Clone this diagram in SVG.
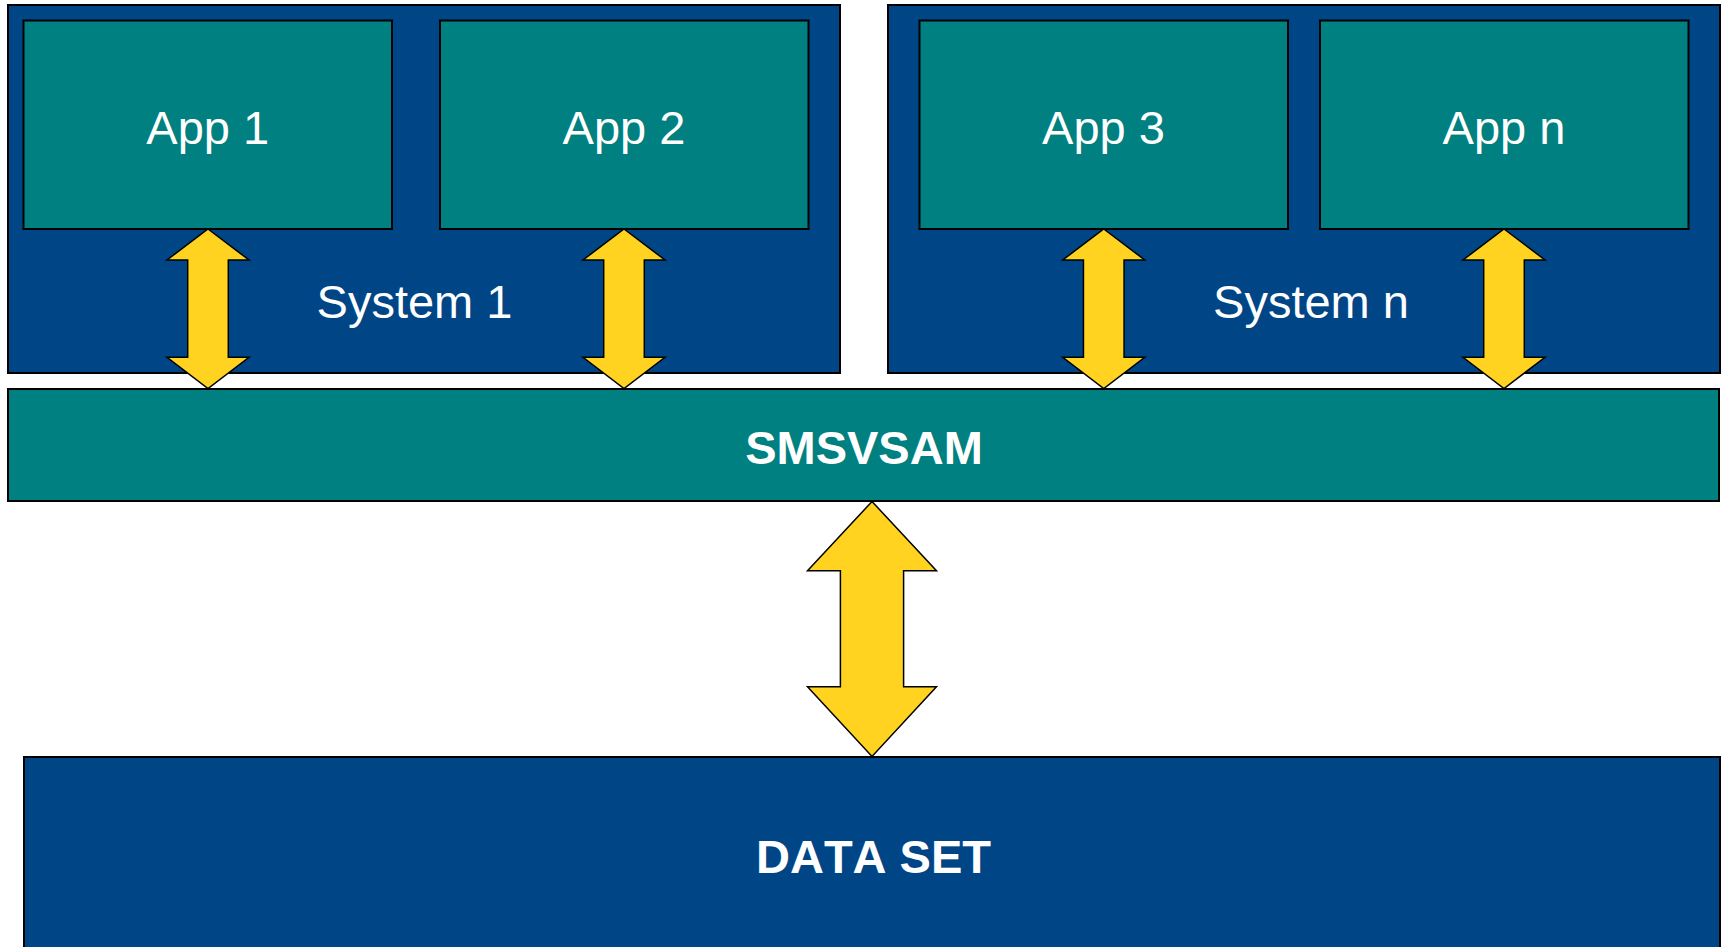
<svg xmlns="http://www.w3.org/2000/svg" width="1725" height="947" viewBox="0 0 1725 947">
  <style>
    .sys { fill: #004586; stroke: #000; stroke-width: 2; }
    .app { fill: #008080; stroke: #000; stroke-width: 2; }
    .arrow { fill: #ffd320; stroke: #000; stroke-width: 1.5; stroke-linejoin: miter; }
    .lbl { font-family: "Liberation Sans", Arial, sans-serif; font-size: 47px; fill: #fff; text-anchor: middle; font-kerning: none; }
    .bold { font-weight: bold; }
  </style>
  <defs>
    <!-- small double-headed block arrow, centred on x=0, spanning y 0..159.5 -->
    <path id="dbl-small" d="M0,0 L41,31 L20.3,31 L20.3,128.3 L41,128.3 L0,159.5 L-41,128.3 L-20.3,128.3 L-20.3,31 L-41,31 Z"/>
  </defs>

  <rect width="1725" height="947" fill="#fff"/>

  <g id="system-1">
    <rect class="sys" x="8" y="5" width="832" height="368"/>
    <text class="lbl" x="414.5" y="318">System 1</text>
  </g>
  <g id="system-n">
    <rect class="sys" x="888" y="5" width="832" height="368"/>
    <text class="lbl" x="1311" y="318">System n</text>
  </g>

  <g id="app-1">
    <rect class="app" x="23.5" y="20.5" width="368.5" height="208.5"/>
    <text class="lbl" x="207.75" y="143.5">App 1</text>
  </g>
  <g id="app-2">
    <rect class="app" x="440" y="20.5" width="368.5" height="208.5"/>
    <text class="lbl" x="624" y="143.5">App 2</text>
  </g>
  <g id="app-3">
    <rect class="app" x="919.5" y="20.5" width="368.5" height="208.5"/>
    <text class="lbl" x="1103.5" y="143.5">App 3</text>
  </g>
  <g id="app-n">
    <rect class="app" x="1320" y="20.5" width="368.5" height="208.5"/>
    <text class="lbl" x="1504" y="143.5">App n</text>
  </g>

  <g id="smsvsam">
    <rect class="app" x="8" y="389" width="1711" height="112"/>
    <text class="lbl bold" x="864" y="463.5">SMSVSAM</text>
  </g>

  <g id="data-set">
    <rect class="sys" x="24" y="757" width="1696" height="200"/>
    <text class="lbl bold" x="873.5" y="872.5">DATA SET</text>
  </g>

  <g id="connectors">
    <use href="#dbl-small" class="arrow" x="208" y="229"/>
    <use href="#dbl-small" class="arrow" x="624" y="229"/>
    <use href="#dbl-small" class="arrow" x="1103.75" y="229"/>
    <use href="#dbl-small" class="arrow" x="1504" y="229"/>
    <path class="arrow" d="M872,501.5 L936.5,570.7 L903.6,570.7 L903.6,686.7 L936.5,686.7 L872,756.5 L807.5,686.7 L840.4,686.7 L840.4,570.7 L807.5,570.7 Z"/>
  </g>
</svg>
